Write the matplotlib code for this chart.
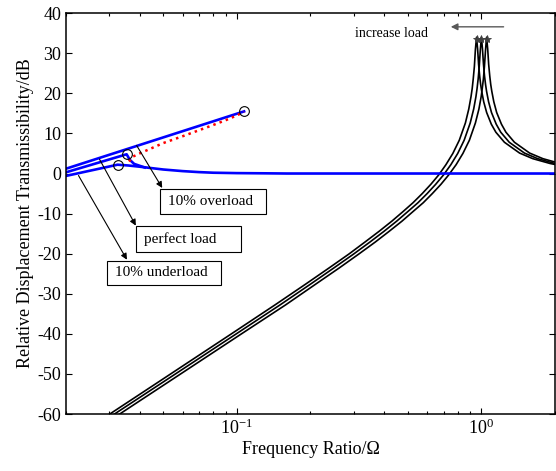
import matplotlib
matplotlib.use("Agg")
import numpy as np
import matplotlib.pyplot as plt
from matplotlib.patches import Rectangle

# black transmissibility curves, dB
curve_y = [-60.9, -52.0, -39.9, -32.8, -27.6, -23.5, -20.1, -17.1, -14.4, -11.9,
           -9.5, -7.3, -5.0, -2.7, -0.35, 2.2, 5.0, 8.3, 12.6, 16.1,
           19.2, 21.2, 23.6, 26.7, 30.9, 34.0, 31.1, 27.2, 24.3, 22.2,
           20.5, 17.9, 15.2, 12.3, 10.3, 7.8, 5.1, 3.7, 2.5, 2.0]
curve_x_over = [0.0287, 0.0478, 0.0955, 0.143, 0.191, 0.239, 0.287, 0.334, 0.382, 0.430,
                0.478, 0.525, 0.573, 0.621, 0.669, 0.716, 0.764, 0.812, 0.860, 0.888,
                0.907, 0.917, 0.926, 0.936, 0.945, 0.955, 0.965, 0.974, 0.984, 0.993,
                1.003, 1.022, 1.051, 1.098, 1.146, 1.242, 1.433, 1.624, 1.910, 2.101]
curve_x_perfect = [0.03, 0.05, 0.1, 0.15, 0.2, 0.25, 0.3, 0.35, 0.4, 0.45,
                   0.5, 0.55, 0.6, 0.65, 0.7, 0.75, 0.8, 0.85, 0.9, 0.93,
                   0.95, 0.96, 0.97, 0.98, 0.99, 1.0, 1.01, 1.02, 1.03, 1.04,
                   1.05, 1.07, 1.1, 1.15, 1.2, 1.3, 1.5, 1.7, 2.0, 2.2]
curve_x_under = [0.0315, 0.0525, 0.105, 0.158, 0.21, 0.263, 0.315, 0.368, 0.42, 0.473,
                 0.525, 0.578, 0.63, 0.683, 0.735, 0.788, 0.84, 0.893, 0.945, 0.977,
                 0.998, 1.008, 1.019, 1.029, 1.04, 1.05, 1.061, 1.071, 1.082, 1.092,
                 1.103, 1.124, 1.155, 1.208, 1.26, 1.365, 1.575, 1.785, 2.1, 2.31]

# blue lines
blue_over_x = [0.02, 0.107]
blue_over_y = [1.2, 15.5]
blue_perfect_x = [0.02, 0.0354, 0.0365, 0.038, 0.042]
blue_perfect_y = [0.3, 4.8, 3.4, 2.4, 1.5]
blue_under_x = [0.02, 0.0325, 0.036, 0.04, 0.05, 0.06, 0.07, 0.08, 0.1, 0.13, 0.16, 2.0]
blue_under_y = [-0.6, 2.2, 2.0, 1.7, 1.0, 0.6, 0.35, 0.2, 0.1, 0.05, 0.0, 0.0]

# red dotted path
red_x = [0.0362, 0.0375, 0.040, 0.05, 0.06, 0.07, 0.08, 0.09, 0.1, 0.107]
red_y = [3.0, 4.2, 5.0, 7.6, 9.3, 10.8, 12.1, 13.3, 14.5, 15.4]

# jump points
jump_x = [0.0325, 0.0354, 0.107]
jump_y = [2.2, 4.8, 15.5]

# label boxes: text, text x, box x0, box x1, box y0, box y1, arrow tail, arrow head
labels = ['10% overload', 'perfect load', '10% underload']
label_text_x = [0.0523, 0.0418, 0.0317]
box_x = [(0.0484, 0.1314), (0.0387, 0.1038), (0.0294, 0.086)]
box_y = [(-10.0, -3.75), (-19.5, -13.0), (-27.75, -21.75)]
arrow_tail = [(0.0389, 7.0), (0.0274, 3.6), (0.0225, -0.5)]
arrow_head = [(0.0495, -3.6), (0.0386, -13.0), (0.0355, -21.5)]

plt.rcParams['font.family'] = ['Liberation Serif', 'DejaVu Serif']
plt.rcParams['mathtext.fontset'] = 'custom'
plt.rcParams['mathtext.rm'] = 'Liberation Serif'
plt.rcParams['mathtext.it'] = 'Liberation Serif:italic'
plt.rcParams['axes.unicode_minus'] = False

fig = plt.figure(figsize=(5.56, 4.71), dpi=100)
ax = fig.add_axes([0.1187, 0.121, 0.8795, 0.851])

for cx in [curve_x_over, curve_x_perfect, curve_x_under]:
    ax.plot(cx, curve_y, color='black', lw=1.2)
    k = int(np.argmax(curve_y))
    ax.plot(cx[k], curve_y[k] - 0.5, marker='*', color='0.25', ms=6, mew=0.6)

ax.plot(blue_over_x, blue_over_y, color='blue', lw=1.9)
ax.plot(blue_perfect_x, blue_perfect_y, color='blue', lw=1.9)
ax.plot(blue_under_x, blue_under_y, color='blue', lw=1.9)
ax.plot(red_x, red_y, color='red', lw=1.8, ls=':')
ax.plot(jump_x, jump_y, 'o', mfc='none', mec='black', ms=7, mew=0.8)

# annotations
arrow = dict(arrowstyle='-|>', color='black', lw=0.8, mutation_scale=9, shrinkA=0, shrinkB=0)
for i in range(3):
    ax.annotate('', xy=arrow_head[i], xytext=arrow_tail[i], arrowprops=arrow)
    x0, x1 = box_x[i]
    y0, y1 = box_y[i]
    ax.add_patch(Rectangle((x0, y0), x1 - x0, y1 - y0, fc='white', ec='black', lw=0.8, zorder=4))
    ax.text(label_text_x[i], (y0 + y1) / 2, labels[i], fontsize=11, va='center', ha='left', zorder=5)

ax.text(0.43, 35.0, 'increase load', fontsize=10, ha='center', va='center')
ax.annotate('', xy=(0.73, 36.6), xytext=(1.265, 36.6),
            arrowprops=dict(arrowstyle='-|>', color='0.35', lw=1.0, mutation_scale=10))

ax.set_xscale('log')
ax.set_xlim(0.02, 2)
ax.set_ylim(-60, 40)
ax.set_yticks(np.arange(-60, 41, 10))
ax.tick_params(which='both', direction='in', top=True, right=True, labelsize=13)
ax.tick_params(which='major', length=4, width=0.8)
ax.tick_params(which='minor', length=2.5, width=0.8)
for s in ax.spines.values():
    s.set_linewidth(1.1)

ax.set_xlabel('Frequency Ratio/Ω', fontsize=13, labelpad=2)
ax.set_ylabel('Relative Displacement Transmissibility/dB', fontsize=13, labelpad=2)

fig.savefig('out.png', dpi=100)
